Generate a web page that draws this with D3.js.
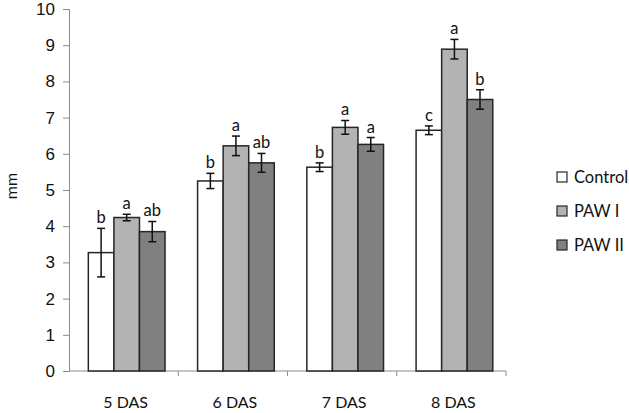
<!DOCTYPE html>
<html><head><meta charset="utf-8">
<script src="https://cdn.jsdelivr.net/npm/d3@7/dist/d3.min.js"></script>
<style>body{margin:0;background:#fff}svg{font-family:Lato,"Open Sans",sans-serif}</style>
</head><body><svg id="c" width="629" height="413"></svg>
<script>
const categories = ["5 DAS","6 DAS","7 DAS","8 DAS"];
const seriesNames = ["Control","PAW I","PAW II"];
const seriesColors = ["#ffffff","#b3b3b3","#808080"];
const controlVals = [3.27,5.25,5.63,6.65];
const paw1Vals = [4.24,6.22,6.73,8.89];
const paw2Vals = [3.85,5.75,6.26,7.50];
const controlErr = [0.67,0.21,0.12,0.12];
const paw1Err = [0.09,0.27,0.19,0.27];
const paw2Err = [0.28,0.26,0.19,0.27];
const controlLetters = ["b","b","b","c"];
const paw1Letters = ["a","a","a","a"];
const paw2Letters = ["ab","ab","a","b"];
const yTicks = [0,1,2,3,4,5,6,7,8,9,10];

const vals = [controlVals,paw1Vals,paw2Vals];
const errs = [controlErr,paw1Err,paw2Err];
const lets = [controlLetters,paw1Letters,paw2Letters];

const svg = d3.select("#c");
const x0 = d3.scaleBand().domain(categories).range([69,506]).paddingInner(0).paddingOuter(0);
const x1 = d3.scaleBand().domain(seriesNames).range([x0.bandwidth()*0.177, x0.bandwidth()*0.879]).padding(0);
const y = d3.scaleLinear().domain([0,10]).range([371,9]);

// y axis
const ya = svg.append("g").attr("transform","translate(69,0)")
  .call(d3.axisLeft(y).tickValues(yTicks).tickSize(6).tickPadding(8));
ya.select(".domain").attr("stroke","#8c8c8c");
ya.selectAll(".tick line").attr("stroke","#8c8c8c");
ya.selectAll("text").attr("font-size","17px").attr("fill","#111");

// x axis
const xa = svg.append("g").attr("transform","translate(0,371)");
xa.append("line").attr("x1",69).attr("x2",506).attr("y1",0).attr("y2",0).attr("stroke","#8c8c8c");
const bounds = categories.map(c=>x0(c)).concat([x0(categories[categories.length-1])+x0.bandwidth()]);
xa.selectAll("line.t").data(bounds.slice(1)).enter().append("line")
  .attr("x1",d=>d).attr("x2",d=>d).attr("y1",0).attr("y2",5).attr("stroke","#8c8c8c");
xa.selectAll("text").data(categories).enter().append("text")
  .attr("x",d=>x0(d)+x0.bandwidth()/2+2).attr("y",37).attr("text-anchor","middle")
  .attr("font-size","16px").attr("fill","#111").text(d=>d);

// axis title
svg.append("text").attr("transform","translate(17,186) rotate(-90)").attr("text-anchor","middle")
  .attr("font-size","16px").attr("fill","#111").text("mm");

// bars
seriesNames.forEach((s,si)=>{
  const g = svg.append("g");
  categories.forEach((c,ci)=>{
    const bx = x0(c)+x1(s), bw = x1.bandwidth(), v = vals[si][ci], e = errs[si][ci];
    g.append("rect").attr("x",bx).attr("y",y(v)).attr("width",bw).attr("height",y(0)-y(v))
      .attr("fill",seriesColors[si]).attr("stroke","#262626").attr("stroke-width",1.5);
    const cx = bx+bw/2;
    g.append("line").attr("x1",cx).attr("x2",cx).attr("y1",y(v+e)).attr("y2",y(v-e)).attr("stroke","#111").attr("stroke-width",1.5);
    [v+e,v-e].forEach(t=>g.append("line").attr("x1",cx-4).attr("x2",cx+4).attr("y1",y(t)).attr("y2",y(t)).attr("stroke","#111").attr("stroke-width",1.5));
    g.append("text").attr("x",cx).attr("y",y(v+e)-5).attr("text-anchor","middle")
      .attr("font-size","16.5px").attr("fill","#111").text(lets[si][ci]);
  });
});

// legend
const lg = svg.append("g");
seriesNames.forEach((s,i)=>{
  const yy = 177 + i*34;
  lg.append("rect").attr("x",557).attr("y",yy-5).attr("width",10).attr("height",10)
    .attr("fill",seriesColors[i]).attr("stroke","#262626").attr("stroke-width",1.2);
  lg.append("text").attr("x",574).attr("y",yy+6).attr("font-size","16.5px").attr("fill","#111").text(s);
});
</script></body></html>
